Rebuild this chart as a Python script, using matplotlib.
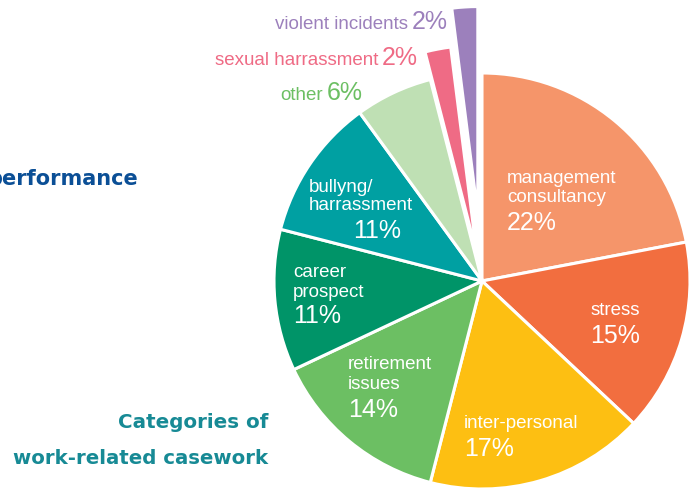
import matplotlib.pyplot as plt

# casework categories (clockwise from 12 o'clock)
categories = ['management consultancy', 'stress', 'inter-personal', 'retirement issues',
              'career prospect', 'bullyng/harrassment', 'other',
              'sexual harrassment', 'violent incidents']
shares = [22, 15, 17, 14, 11, 11, 6, 2, 2]
colors = ['#F5956A', '#F26E3F', '#FDBF12', '#6CBF63', '#009468',
          '#00A0A2', '#BFE0B4', '#EF6B85', '#9C80BC']
pull_out = [0, 0, 0, 0, 0, 0, 0, 0.135, 0.32]   # fraction of radius

W, H = 696, 489
R = 208
fig = plt.figure(figsize=(W / 100, H / 100), dpi=100)
ax = fig.add_axes([0, 0, 1, 1])

def Y(y):
    # pixel row (from top) -> data y
    return H - y

# matplotlib's explode is in data units, so scale by the radius
ax.pie(shares, colors=colors, explode=[p * R for p in pull_out],
       startangle=90, counterclock=False,
       center=(482, Y(282)), radius=R,
       wedgeprops=dict(edgecolor='white', linewidth=2.2))

ax.set_xlim(0, W)
ax.set_ylim(0, H)
ax.set_aspect('equal')
ax.axis('off')

lab = dict(family='Liberation Sans', color='white', fontsize=13.5)
pct = dict(family='Liberation Sans', color='white', fontsize=18)

# labels inside the slices
ax.text(507, Y(183), 'management', **lab)
ax.text(507, Y(202), 'consultancy', **lab)
ax.text(507, Y(230), f'{shares[0]}%', **pct)

ax.text(615, Y(315), 'stress', ha='center', **lab)
ax.text(615, Y(343), f'{shares[1]}%', ha='center', **pct)

ax.text(464, Y(428), 'inter-personal', **lab)
ax.text(464, Y(456), f'{shares[2]}%', **pct)

ax.text(348, Y(369), 'retirement', **lab)
ax.text(348, Y(389), 'issues', **lab)
ax.text(348, Y(417), f'{shares[3]}%', **pct)

ax.text(293, Y(277), 'career', **lab)
ax.text(293, Y(297), 'prospect', **lab)
ax.text(293, Y(323), f'{shares[4]}%', **pct)

ax.text(309, Y(192), 'bullyng/', **lab)
ax.text(309, Y(210), 'harrassment', **lab)
ax.text(353, Y(238), f'{shares[5]}%', **pct)

# labels outside for the small slices
outside = [(6, 363, 100), (7, 418, 65), (8, 448, 29)]
for i, xr, yb in outside:
    c = colors[i] if i != 6 else '#6CBF63'
    name = categories[i] if i != 6 else 'other'
    ax.text(xr, Y(yb), f'{shares[i]}%', ha='right', color=c,
            family='Liberation Sans', fontsize=18)
    ax.text(xr - 40, Y(yb), name, ha='right', color=c,
            family='Liberation Sans', fontsize=13.5)

# side headings
ax.text(138, Y(185), 'performance', ha='right', color='#0B4F96',
        family='DejaVu Sans', weight='bold', fontsize=15)
ax.text(268, Y(428), 'Categories of', ha='right', color='#178A95',
        family='DejaVu Sans', weight='bold', fontsize=14.3)
ax.text(268, Y(464), 'work-related casework', ha='right', color='#178A95',
        family='DejaVu Sans', weight='bold', fontsize=14.2)

plt.savefig('out.png', dpi=100)
